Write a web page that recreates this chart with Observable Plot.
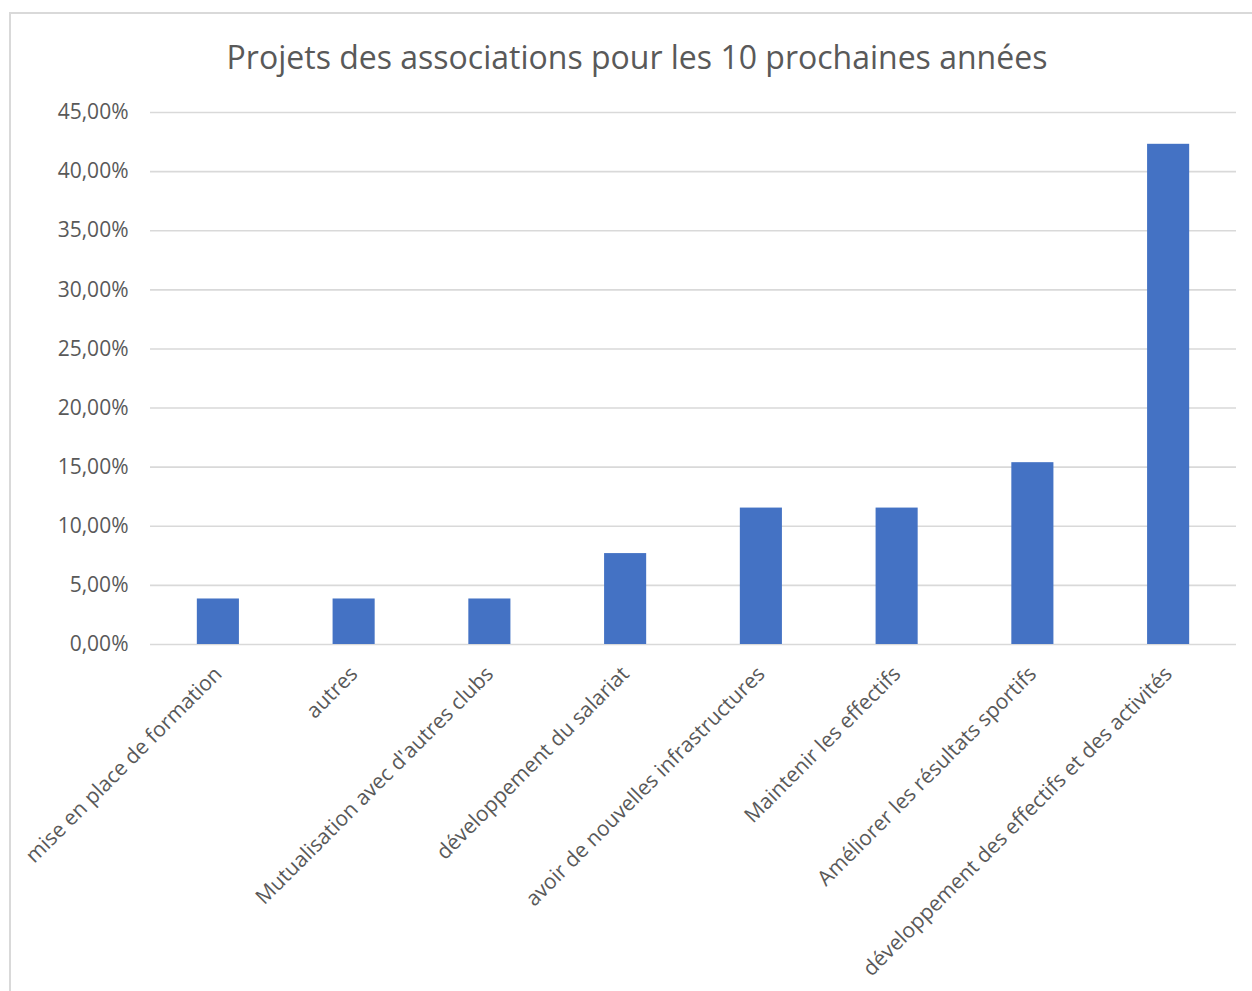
<!DOCTYPE html>
<html>
<head>
<meta charset="utf-8">
<script src="https://cdn.jsdelivr.net/npm/d3@7"></script>
<script src="https://cdn.jsdelivr.net/npm/@observablehq/plot@0.6"></script>
<style>
  html, body { margin: 0; padding: 0; background: #fff; }
  body { width: 1252px; height: 991px; overflow: hidden; position: relative; font-family: "Open Sans", sans-serif; }
  #frame { position: absolute; left: 9px; top: 12px; width: 1300px; height: 1100px; border: 2px solid #d9d9d9; box-sizing: border-box; }
  #title { position: absolute; left: 0; top: 35px; width: 1274px; text-align: center; font-size: 32px; color: #595959; white-space: nowrap; }
  #chart { position: absolute; left: 0; top: 92px; }
</style>
</head>
<body>
<div id="frame"></div>
<div id="title">Projets des associations pour les 10 prochaines années</div>
<div id="chart"></div>
<script>
const categories = [
  "mise en place de formation",
  "autres",
  "Mutualisation avec d'autres clubs",
  "développement du salariat",
  "avoir de nouvelles infrastructures",
  "Maintenir les effectifs",
  "Améliorer les résultats sportifs",
  "développement des effectifs et des activités"
];
const values = [0.0385, 0.0385, 0.0385, 0.0769, 0.1154, 0.1154, 0.1538, 0.4231];
const yTicks = [0, 0.05, 0.10, 0.15, 0.20, 0.25, 0.30, 0.35, 0.40, 0.45];

const data = categories.map((c, i) => ({category: c, value: values[i]}));
const fmt = d => (d * 100).toFixed(2).replace(".", ",") + "%";

const chart = Plot.plot({
  width: 1252,
  height: 897,
  marginLeft: 150,
  marginRight: 16,
  marginTop: 20,
  marginBottom: 345,
  style: { fontFamily: "Open Sans, sans-serif", fontSize: "21px", color: "#595959", background: "transparent" },
  x: { domain: categories, paddingInner: 0.69, paddingOuter: 0.345, round: false, label: null },
  y: { domain: [0, 0.45], label: null },
  marks: [
    Plot.ruleY(yTicks, { stroke: "#d9d9d9", strokeWidth: 1.6 }),
    Plot.barY(data, { x: "category", y: "value", fill: "#4472C4" }),
    Plot.axisY({ ticks: yTicks, tickFormat: fmt, tickSize: 0, tickPadding: 22, fontSize: 21, fill: "#595959" }),
    Plot.axisX({ tickSize: 0, tickRotate: -45, tickPadding: 26, fontSize: 21, fill: "#595959" })
  ]
});
document.getElementById("chart").appendChild(chart);
</script>
</body>
</html>
